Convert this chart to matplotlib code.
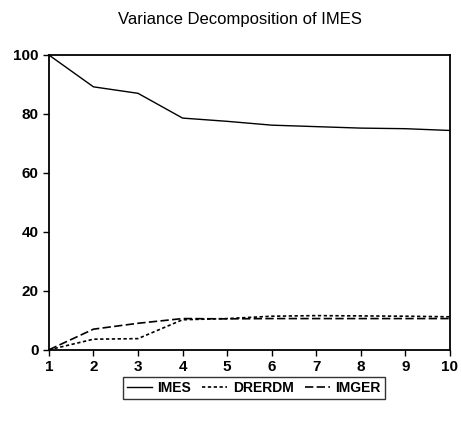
import matplotlib
matplotlib.use("Agg")
from matplotlib import pyplot as plt

periods = [1, 2, 3, 4, 5, 6, 7, 8, 9, 10]
imes = [100, 89.2, 87.0, 78.6, 77.5, 76.2, 75.7, 75.2, 75.0, 74.4]
drerdm = [0, 3.6, 3.8, 10.2, 10.6, 11.4, 11.6, 11.5, 11.4, 11.2]
imger = [0, 7.0, 9.0, 10.6, 10.5, 10.6, 10.6, 10.6, 10.6, 10.6]

plt.rcParams['font.family'] = ['Liberation Sans', 'DejaVu Sans']

fig = plt.figure(figsize=(4.61, 4.23), dpi=100)
ax = fig.add_axes([0.106, 0.173, 0.87, 0.697])

ax.plot(periods, imes, color='black', lw=1.0, ls='-', label='IMES')
ax.plot(periods, drerdm, color='black', lw=1.2, ls=(0, (2, 1.5)), label='DRERDM')
ax.plot(periods, imger, color='black', lw=1.2, ls=(0, (5, 2)), label='IMGER')

ax.set_xlim(1, 10)
ax.set_ylim(0, 100)
ax.set_xticks(periods)
ax.set_yticks([0, 20, 40, 60, 80, 100])
ax.tick_params(direction='out', length=4, width=1.0, labelsize=11)
for lbl in ax.get_xticklabels() + ax.get_yticklabels():
    lbl.set_fontweight('bold')
for s in ax.spines.values():
    s.set_linewidth(1.3)

fig.text(0.52, 0.955, "Variance Decomposition of IMES", fontsize=12,
         ha='center', va='center')

leg = fig.legend(loc='center', bbox_to_anchor=(0.55, 0.083), ncol=3,
                 frameon=True, fancybox=False, edgecolor='black',
                 handlelength=1.8, handletextpad=0.4, columnspacing=0.8,
                 borderpad=0.3, prop={'size': 10, 'weight': 'bold'})
leg.get_frame().set_linewidth(1.0)

fig.savefig('out.png', dpi=100)
